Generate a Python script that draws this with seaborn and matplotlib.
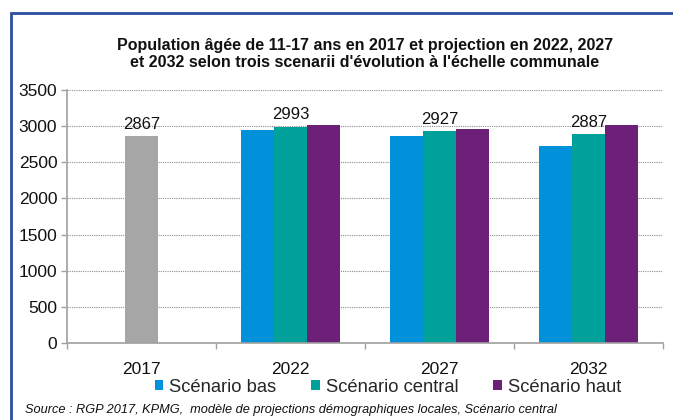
import matplotlib
matplotlib.use("Agg")
import matplotlib.pyplot as plt
import matplotlib.patches as mpatches
from matplotlib.ticker import FixedLocator
import numpy as np
import pandas as pd
import seaborn as sns

# ---- data -------------------------------------------------------------
years = ["2017", "2022", "2027", "2032"]
base_year = "2017"
base_value = 2867
proj_years = ["2022", "2027", "2032"]
scenario_bas = [2945, 2858, 2720]
scenario_central = [2993, 2927, 2887]
scenario_haut = [3022, 2959, 3022]
scenario_names = ["Scénario bas", "Scénario central", "Scénario haut"]
scenario_colors = ["#0091DA", "#00A19B", "#6C2077"]
base_color = "#A6A6A6"
yticks = [0, 500, 1000, 1500, 2000, 2500, 3000, 3500]

title = ("Population âgée de 11-17 ans en 2017 et projection en 2022, 2027\n"
         "et 2032 selon trois scenarii d'évolution à l'échelle communale")
source = ("Source : RGP 2017, KPMG,  modèle de projections démographiques "
          "locales, Scénario central")

# ---- tidy frames ------------------------------------------------------
proj = pd.DataFrame({
    "annee": proj_years * 3,
    "scenario": [scenario_names[0]] * 3 + [scenario_names[1]] * 3 + [scenario_names[2]] * 3,
    "population": scenario_bas + scenario_central + scenario_haut,
})
base = pd.DataFrame({"annee": [base_year], "population": [base_value]})

sns.set_theme(style="white")
plt.rcParams["font.family"] = ["Liberation Sans", "DejaVu Sans"]

fig = plt.figure(figsize=(6.73, 4.2), dpi=100)
ax = fig.add_axes([67 / 673, 1 - 343 / 420, (663 - 67) / 673, (343 - 90) / 420])

sns.barplot(data=proj, x="annee", y="population", hue="scenario",
            order=years, hue_order=scenario_names, palette=scenario_colors,
            width=0.67, saturation=1, errorbar=None, ax=ax, legend=False,
            linewidth=0)
sns.barplot(data=base, x="annee", y="population", order=years,
            color=base_color, width=0.22, saturation=1, errorbar=None, ax=ax,
            linewidth=0)

# value labels on the central scenario and on the 2017 bar
containers = ax.containers
central = containers[1]
ax.bar_label(central, labels=[str(v) for v in scenario_central],
             padding=3, fontsize=12, color="#111111")
ax.bar_label(containers[-1], labels=[str(base_value)], padding=3,
             fontsize=12, color="#111111")

# axes styling
ax.set_ylim(0, 3500)
ax.set_xlim(-0.5, 3.5)
ax.yaxis.set_major_locator(FixedLocator(yticks))
ax.set_yticklabels([str(t) for t in yticks])
ax.set_xlabel("")
ax.set_ylabel("")
ax.yaxis.grid(True, linestyle=(0, (1, 1)), color="#8C8C8C", linewidth=0.8)
ax.set_axisbelow(True)
for side in ("top", "right"):
    ax.spines[side].set_visible(False)
for side in ("left", "bottom"):
    ax.spines[side].set_color("#A0A0A0")
    ax.spines[side].set_linewidth(1.2)
ax.xaxis.set_minor_locator(FixedLocator([-0.5, 0.5, 1.5, 2.5, 3.5]))
ax.tick_params(axis="x", which="major", length=0, labelsize=12.5, pad=14,
               colors="#111111")
ax.tick_params(axis="x", which="minor", length=4, width=1, color="#A0A0A0",
               direction="out", bottom=True)
ax.tick_params(axis="y", length=4, width=1, color="#A0A0A0", labelsize=12.5,
               pad=3, colors="#111111", left=True, direction="out")
ax.tick_params(axis="y", colors="#A0A0A0", labelcolor="#111111")

# legend below the axis
handles = [mpatches.Patch(facecolor=c, edgecolor="none") for c in scenario_colors]
fig.legend(handles, scenario_names, loc="center",
           bbox_to_anchor=(388 / 673, 1 - 387 / 420), ncol=3, frameon=False,
           fontsize=13.2, handlelength=0.45, handleheight=0.45,
           handletextpad=0.35, columnspacing=1.9, borderpad=0)

# title and source
fig.text(365 / 673, 1 - 54 / 420, title, ha="center", va="center",
         fontsize=11.5, fontweight="bold", color="#111111", linespacing=1.1)
fig.text(25 / 673, 1 - 410 / 420, source, ha="left", va="center",
         fontsize=9.2, style="italic", color="#111111")

# outer frame
fig.add_artist(mpatches.Rectangle((11 / 673, -0.1), 1.2, 1 - 13 / 420 + 0.1,
                                  transform=fig.transFigure, fill=False,
                                  edgecolor="#2B4E9E", linewidth=2))

fig.savefig("out.png", dpi=100)
